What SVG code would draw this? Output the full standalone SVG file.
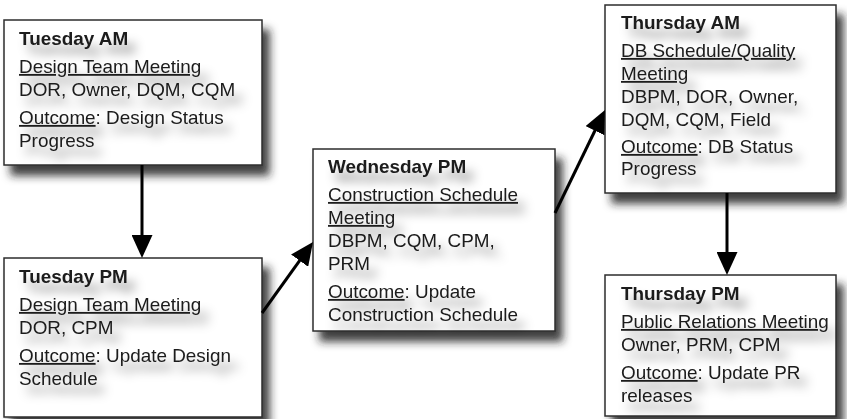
<svg xmlns="http://www.w3.org/2000/svg" width="847" height="419" viewBox="0 0 847 419">
  <style>
    .box { fill: #ffffff; stroke: #2e2e2e; stroke-width: 1.5; filter: url(#boxShadow); }
    .txt { font-family: "Liberation Sans", Arial, sans-serif; font-size: 18px; fill: #1a1a1a; }
    .title { font-weight: bold; }
    .u { text-decoration: underline; }
    .conn { stroke: #000000; stroke-width: 3; fill: none; marker-end: url(#head); }
  </style>
  <defs>
    <filter id="boxShadow" x="-10%" y="-10%" width="130%" height="130%">
      <feDropShadow dx="7" dy="10" stdDeviation="4" flood-color="#1e1e1e" flood-opacity="0.85"/>
    </filter>
    <filter id="textShadow" x="-10%" y="-20%" width="130%" height="160%">
      <feGaussianBlur in="SourceAlpha" stdDeviation="5"/>
      <feOffset dx="7" dy="10" result="blur"/>
      <feFlood flood-color="#000000" flood-opacity="0.4"/>
      <feComposite in2="blur" operator="in"/>
      <feMerge>
        <feMergeNode/>
        <feMergeNode in="SourceGraphic"/>
      </feMerge>
    </filter>
    <marker id="head" markerUnits="userSpaceOnUse" markerWidth="23" markerHeight="21" refX="13" refY="10.5" orient="auto">
      <path d="M0,0 L23,10.5 L0,21 Z" fill="#000000"/>
    </marker>
  </defs>

  <!-- Tuesday AM -->
  <g id="tuesday-am">
    <rect class="box" x="4" y="20" width="258" height="145"/>
    <g class="txt" filter="url(#textShadow)" transform="translate(19 0) scale(1.05 1)">
      <text class="title" x="0" y="45">Tuesday AM</text>
      <text x="0" y="73"><tspan class="u">Design Team Meeting</tspan></text>
      <text x="0" y="96">DOR, Owner, DQM, CQM</text>
      <text x="0" y="124"><tspan class="u">Outcome</tspan>: Design Status</text>
      <text x="0" y="147">Progress</text>
    </g>
  </g>

  <!-- Tuesday PM -->
  <g id="tuesday-pm">
    <rect class="box" x="4" y="258" width="258" height="159"/>
    <g class="txt" filter="url(#textShadow)" transform="translate(19 0) scale(1.05 1)">
      <text class="title" x="0" y="283">Tuesday PM</text>
      <text x="0" y="311"><tspan class="u">Design Team Meeting</tspan></text>
      <text x="0" y="334">DOR, CPM</text>
      <text x="0" y="362"><tspan class="u">Outcome</tspan>: Update Design</text>
      <text x="0" y="385">Schedule</text>
    </g>
  </g>

  <!-- Wednesday PM -->
  <g id="wednesday-pm">
    <rect class="box" x="313" y="149" width="242" height="182"/>
    <g class="txt" filter="url(#textShadow)" transform="translate(328 0) scale(1.05 1)">
      <text class="title" x="0" y="173">Wednesday PM</text>
      <text x="0" y="201"><tspan class="u">Construction Schedule</tspan></text>
      <text x="0" y="224"><tspan class="u">Meeting</tspan></text>
      <text x="0" y="247">DBPM, CQM, CPM,</text>
      <text x="0" y="270">PRM</text>
      <text x="0" y="298"><tspan class="u">Outcome</tspan>: Update</text>
      <text x="0" y="321">Construction Schedule</text>
    </g>
  </g>

  <!-- Thursday AM -->
  <g id="thursday-am">
    <rect class="box" x="605" y="5" width="231" height="188"/>
    <g class="txt" filter="url(#textShadow)" transform="translate(621 0) scale(1.05 1)">
      <text class="title" x="0" y="29">Thursday AM</text>
      <text x="0" y="57"><tspan class="u">DB Schedule/Quality</tspan></text>
      <text x="0" y="80"><tspan class="u">Meeting</tspan></text>
      <text x="0" y="103">DBPM, DOR, Owner,</text>
      <text x="0" y="126">DQM, CQM, Field</text>
      <text x="0" y="153"><tspan class="u">Outcome</tspan>: DB Status</text>
      <text x="0" y="175">Progress</text>
    </g>
  </g>

  <!-- Thursday PM -->
  <g id="thursday-pm">
    <rect class="box" x="605" y="275" width="231" height="141"/>
    <g class="txt" filter="url(#textShadow)" transform="translate(621 0) scale(1.05 1)">
      <text class="title" x="0" y="300">Thursday PM</text>
      <text x="0" y="328"><tspan class="u">Public Relations Meeting</tspan></text>
      <text x="0" y="351">Owner, PRM, CPM</text>
      <text x="0" y="379"><tspan class="u">Outcome</tspan>: Update PR</text>
      <text x="0" y="402">releases</text>
    </g>
  </g>

  <!-- Connectors -->
  <g id="connectors">
    <line class="conn" x1="142" y1="165" x2="142" y2="248"/>
    <line class="conn" x1="262" y1="313" x2="307.2" y2="250.1"/>
    <line class="conn" x1="555" y1="213" x2="600.6" y2="119"/>
    <line class="conn" x1="727" y1="193" x2="727" y2="265"/>
  </g>
</svg>
